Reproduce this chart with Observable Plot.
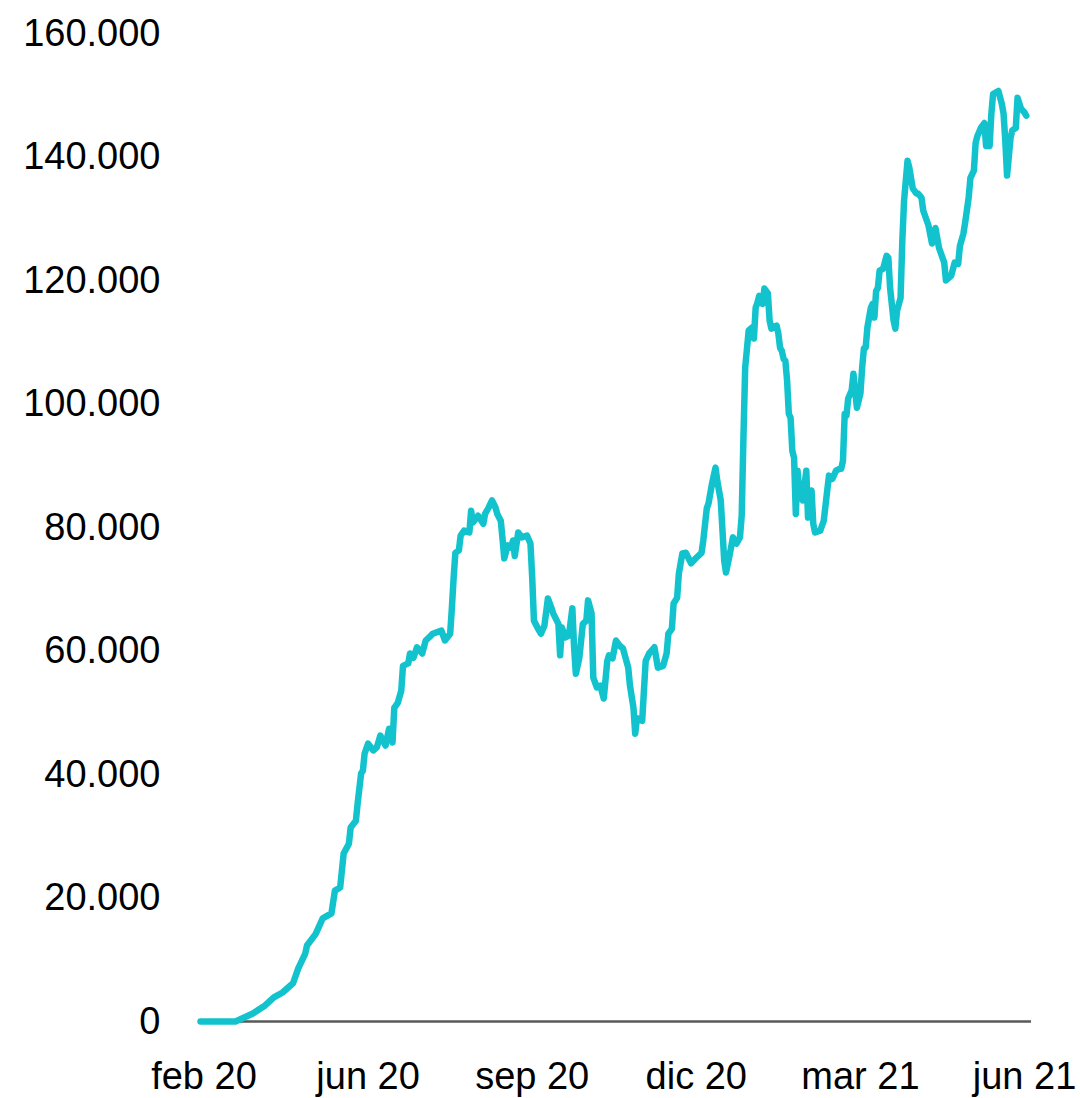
<!DOCTYPE html>
<html>
<head>
<meta charset="utf-8">
<script src="https://cdn.jsdelivr.net/npm/d3@7"></script>
<script src="https://cdn.jsdelivr.net/npm/@observablehq/plot@0.6"></script>
<style>
  html, body { margin: 0; padding: 0; background: #ffffff; }
  #chart { width: 1080px; height: 1098px; }
</style>
</head>
<body>
<div id="chart"></div>
<script>
const dates = [
  "2020-02-27","2020-03-18","2020-03-28","2020-04-04","2020-04-09","2020-04-14","2020-04-20","2020-04-23","2020-04-27","2020-04-28",
  "2020-05-03","2020-05-07","2020-05-12","2020-05-14","2020-05-17","2020-05-19","2020-05-22","2020-05-23","2020-05-26","2020-05-27",
  "2020-05-29","2020-05-30","2020-05-31","2020-06-02","2020-06-05","2020-06-07","2020-06-09","2020-06-12","2020-06-14","2020-06-16",
  "2020-06-17","2020-06-19","2020-06-21","2020-06-22","2020-06-25","2020-06-26","2020-06-28","2020-06-30","2020-07-03","2020-07-05",
  "2020-07-08","2020-07-09","2020-07-14","2020-07-16","2020-07-19","2020-07-20","2020-07-21","2020-07-22","2020-07-24","2020-07-25",
  "2020-07-27","2020-07-30","2020-07-31","2020-08-01","2020-08-04","2020-08-07","2020-08-08","2020-08-10","2020-08-12","2020-08-14",
  "2020-08-15","2020-08-17","2020-08-18","2020-08-19","2020-08-21","2020-08-23","2020-08-24","2020-08-25","2020-08-27","2020-08-29",
  "2020-09-01","2020-09-03","2020-09-04","2020-09-05","2020-09-07","2020-09-09","2020-09-11","2020-09-13","2020-09-15","2020-09-16",
  "2020-09-19","2020-09-20","2020-09-21","2020-09-23","2020-09-25","2020-09-27","2020-09-28","2020-09-29","2020-10-01","2020-10-03",
  "2020-10-05","2020-10-06","2020-10-08","2020-10-09","2020-10-11","2020-10-13","2020-10-15","2020-10-17","2020-10-18","2020-10-20",
  "2020-10-22","2020-10-24","2020-10-26","2020-10-29","2020-10-30","2020-11-01","2020-11-02","2020-11-03","2020-11-06","2020-11-08",
  "2020-11-10","2020-11-13","2020-11-15","2020-11-18","2020-11-20","2020-11-21","2020-11-23","2020-11-24","2020-11-26","2020-11-27",
  "2020-11-29","2020-12-01","2020-12-04","2020-12-07","2020-12-10","2020-12-11","2020-12-13","2020-12-14","2020-12-16","2020-12-18",
  "2020-12-19","2020-12-21","2020-12-23","2020-12-24","2020-12-26","2020-12-28","2020-12-30","2021-01-01","2021-01-02","2021-01-03",
  "2021-01-04","2021-01-06","2021-01-08","2021-01-09","2021-01-10","2021-01-11","2021-01-12","2021-01-14","2021-01-15","2021-01-17",
  "2021-01-18","2021-01-19","2021-01-22","2021-01-23","2021-01-24","2021-01-25","2021-01-26","2021-01-27","2021-01-28","2021-01-29",
  "2021-01-30","2021-01-31","2021-02-01","2021-02-02","2021-02-03","2021-02-04","2021-02-06","2021-02-08","2021-02-09","2021-02-11",
  "2021-02-12","2021-02-13","2021-02-16","2021-02-18","2021-02-20","2021-02-21","2021-02-23","2021-02-25","2021-02-27","2021-02-28",
  "2021-03-01","2021-03-02","2021-03-03","2021-03-04","2021-03-06","2021-03-07","2021-03-09","2021-03-11","2021-03-12","2021-03-13",
  "2021-03-14","2021-03-15","2021-03-17","2021-03-18","2021-03-19","2021-03-20","2021-03-21","2021-03-22","2021-03-24","2021-03-26",
  "2021-03-27","2021-03-28","2021-03-30","2021-03-31","2021-04-01","2021-04-03","2021-04-04","2021-04-05","2021-04-06","2021-04-07",
  "2021-04-08","2021-04-10","2021-04-12","2021-04-13","2021-04-15","2021-04-16","2021-04-19","2021-04-21","2021-04-23","2021-04-25",
  "2021-04-27","2021-04-28","2021-04-29","2021-05-02","2021-05-04","2021-05-06","2021-05-07","2021-05-09","2021-05-10","2021-05-12",
  "2021-05-13","2021-05-15","2021-05-16","2021-05-17","2021-05-19","2021-05-21","2021-05-22","2021-05-24","2021-05-25","2021-05-26",
  "2021-05-29","2021-05-31","2021-06-01","2021-06-02","2021-06-03","2021-06-05","2021-06-06","2021-06-08","2021-06-09","2021-06-11",
  "2021-06-13","2021-06-14"
];

const values = [
  0,0,1300,2600,3900,4700,6200,8600,11000,12300,
  14200,16700,17500,21200,21700,27200,28800,31400,32500,35300,
  40200,40600,43400,45000,43900,44400,46300,44700,47400,45200,
  50800,51600,53600,57600,58000,59600,58900,60600,59600,61700,
  62500,62800,63300,61700,62800,67000,71900,75900,76300,78700,
  79500,79200,82700,80800,81900,80600,82200,83200,84400,83200,
  82200,81100,78200,75000,77100,76700,77900,75400,79200,78400,
  78700,77400,71900,64900,63800,62800,64100,68500,67000,66100,
  64400,59300,63800,62200,62500,66900,60600,56300,58900,64400,
  64900,68200,66100,55700,54100,54400,52300,58400,59300,58800,
  61700,60900,60400,57300,54400,50800,46600,49100,48700,58400,
  59600,60600,57300,57600,59600,62800,63600,67700,68600,72500,
  75800,75900,74200,75100,75900,77900,83100,83900,87100,89700,
  87600,84400,74600,72700,75400,78400,77400,78400,81900,94600,
  105900,111900,112400,110600,115600,116400,117500,116200,118700,117900,
  113500,112200,112700,111400,109100,108600,107300,107000,103800,98400,
  97800,92400,91300,82200,89200,86000,84400,89200,81600,86000,
  80600,79200,79500,81100,86000,88400,87900,89200,89500,89500,
  90800,98400,98100,100900,102200,104900,99400,101700,105900,109000,
  109100,112400,115600,116200,114000,118300,118800,121600,121900,124000,
  123700,118800,113500,112200,115100,117200,126400,132900,136200,139400,
  138300,134900,134100,134100,133400,131300,128900,126000,128500,125300,
  123700,122900,120000,120800,122900,122700,125600,127600,129400,133400,
  136600,137800,142300,143400,144700,145500,141800,141800,147000,150200,
  150700,148600,147000,142600,137000,143100,144300,144700,149600,147800,
  147200,146700
];

const xTickDates = ["2020-02-29","2020-06-02","2020-09-04","2020-12-07","2021-03-11","2021-06-13"];
const xTickLabels = ["feb 20","jun 20","sep 20","dic 20","mar 21","jun 21"];
const yTicks = [0,20000,40000,60000,80000,100000,120000,140000,160000];
const xDomain = ["2020-02-27","2021-06-17"];

const parse = d3.utcParse("%Y-%m-%d");
const data = dates.map((d, i) => ({date: parse(d), value: values[i]}));
const tickDates = xTickDates.map(parse);
const labelByTime = new Map(tickDates.map((d, i) => [+d, xTickLabels[i]]));
const esFormat = d3.formatLocale({decimal: ",", thousands: ".", grouping: [3], currency: ["", " €"]}).format(",.0f");

const chart = Plot.plot({
  width: 1080,
  height: 1098,
  marginLeft: 200,
  marginRight: 49,
  marginTop: 33,
  marginBottom: 77,
  style: {fontFamily: "'Liberation Sans', Arial, sans-serif", fontSize: "38px", color: "#000000", background: "#ffffff"},
  x: {type: "utc", domain: xDomain.map(parse)},
  y: {domain: [0, 160000]},
  marks: [
    Plot.axisY({ticks: yTicks, tickSize: 0, tickPadding: 40, tickFormat: esFormat, label: null}),
    Plot.axisX({ticks: tickDates, tickSize: 0, tickPadding: 41, tickFormat: d => labelByTime.get(+d), label: null}),
    Plot.ruleY([0], {stroke: "#595959", strokeWidth: 2.5}),
    Plot.line(data, {x: "date", y: "value", stroke: "#12C3CE", strokeWidth: 6.5, strokeLinejoin: "round", strokeLinecap: "round"})
  ]
});
document.getElementById("chart").appendChild(chart);
</script>
</body>
</html>
